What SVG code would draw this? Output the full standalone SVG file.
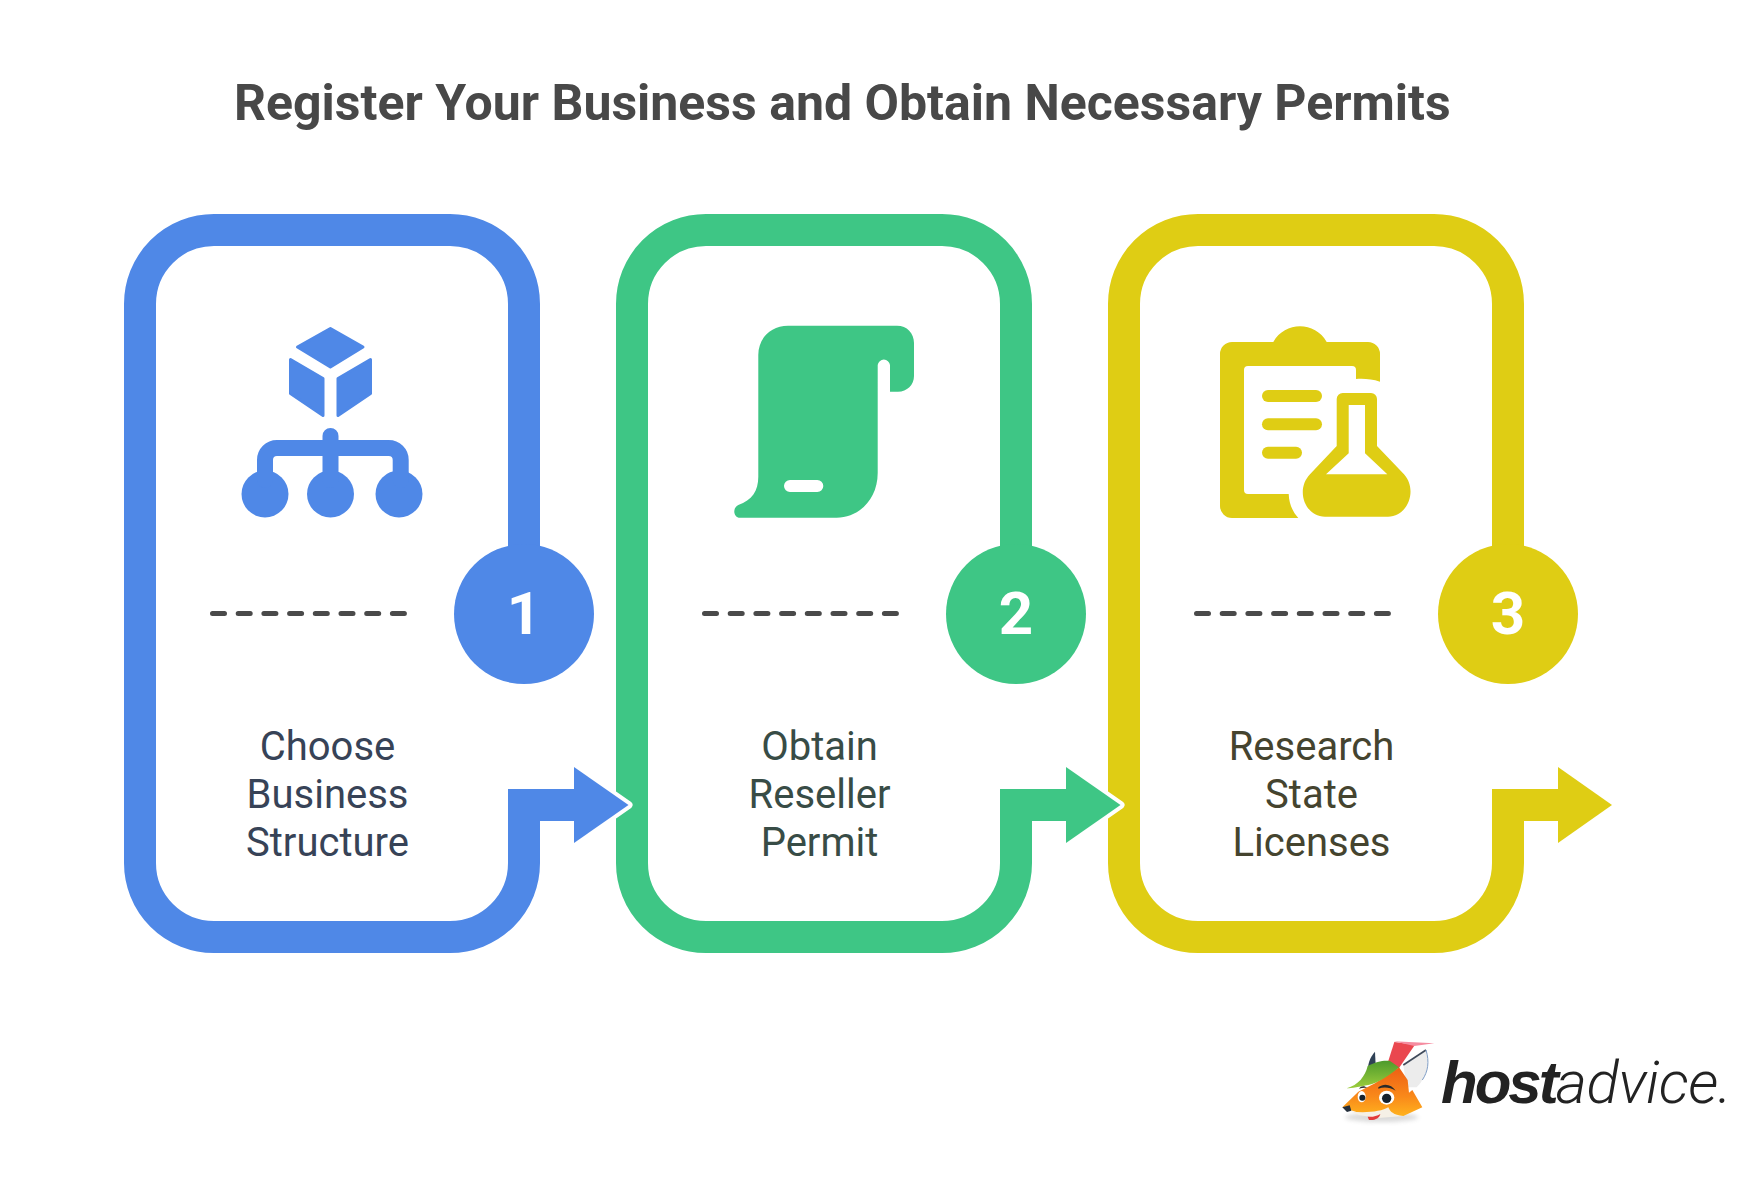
<svg xmlns="http://www.w3.org/2000/svg" width="1762" height="1180" viewBox="0 0 1762 1180">
<style>
text{font-family:Roboto,"Liberation Sans",sans-serif}
.title{font-size:50px;font-weight:700;fill:#484848}
.label{font-size:40px;font-weight:400;text-anchor:middle}
.num{font-size:60px;font-weight:700;fill:#fff;text-anchor:middle}
.ribbon{fill:none;stroke-width:32}
.dash{fill:none;stroke:#4a4a4a;stroke-width:5;stroke-linecap:round;stroke-dasharray:12 13.7}
.b{stroke:#4f88e7}.g{stroke:#3ec685}.y{stroke:#dfcd14}
.fb{fill:#4f88e7}.fg{fill:#3ec685}.fy{fill:#dfcd14}
.halo{fill:#fff;stroke:#fff;stroke-width:8;stroke-linejoin:round}
.shaft{fill:none;stroke-width:32}
</style>
<defs>
<path id="rib" d="M0 385V74A74 74 0 0 0-74 0H-310A74 74 0 0 0-384 74V633A74 74 0 0 0-310 707H-74A74 74 0 0 0 0 633V575"/>
<filter id="blur" x="-30%" y="-100%" width="160%" height="300%"><feGaussianBlur stdDeviation="7"/></filter>
<linearGradient id="fur" x1="0" y1="0" x2="0" y2="1"><stop offset="0" stop-color="#ee5f14"/><stop offset=".6" stop-color="#f9891a"/><stop offset="1" stop-color="#ffb21e"/></linearGradient>
<linearGradient id="hat" x1="0" y1="0" x2="0" y2="1"><stop offset="0" stop-color="#4d9a2c"/><stop offset="1" stop-color="#9ccd3c"/></linearGradient>
</defs>
<rect width="1762" height="1180" fill="#fff"/>
<g id="title"><text class="title" x="234" y="120">Register Your Business and Obtain Necessary Permits</text></g>

<g id="node-1">
<use href="#rib" x="524" y="230" class="ribbon b"/>
<circle cx="524" cy="614" r="70" class="fb"/>
<text class="num" x="524" y="634">1</text>
<line class="dash" x1="212.500" y1="613.500" x2="405" y2="613.500"/>
<g class="fb">
<path d="M330.400 328.500L363 347 330.400 367 297.500 347Z" stroke="#4f88e7" stroke-width="3" stroke-linejoin="round"/>
<path d="M290.500 359.500L323 378.500V415.500L290.500 393.500Z" stroke="#4f88e7" stroke-width="3" stroke-linejoin="round"/>
<path d="M370.500 359.500L338 378.500V415.500L370.500 393.500Z" stroke="#4f88e7" stroke-width="3" stroke-linejoin="round"/>
<circle cx="265" cy="494" r="23.500"/><circle cx="330.500" cy="494" r="23.500"/><circle cx="399" cy="494" r="23.500"/>
</g>
<path d="M265 480V460A12 12 0 0 1 277 448H388.700A12 12 0 0 1 400.700 460V480M330.500 436V480" fill="none" stroke="#4f88e7" stroke-width="16" stroke-linecap="round"/>
<text class="label" fill="#374357"><tspan x="327.500" y="760">Choose</tspan><tspan x="327.500" y="808">Business</tspan><tspan x="327.500" y="856">Structure</tspan></text>
</g>

<g id="node-2">
<use href="#rib" x="1016" y="230" class="ribbon g"/>
<circle cx="1016" cy="614" r="70" class="fg"/>
<text class="num" x="1016" y="634">2</text>
<line class="dash" x1="704.500" y1="613.500" x2="897" y2="613.500"/>
<path class="fg" fill-rule="evenodd" d="M758.300 355C758.300 338 771 325.700 788 325.700H897C907 325.700 914 333 914 343V376C914 385 907 391.700 898 391.700H890V365A6.200 6.200 0 0 0 877.700 365V473C877.700 500 858 517.700 836.700 517.700H740C733.500 517.700 732 508 738.300 505C752 500 758.300 491 758.300 476.700ZM790 480A6 6 0 0 0 790 492H817.300A6 6 0 0 0 817.300 480Z"/>
<text class="label" fill="#384c46"><tspan x="819.500" y="760">Obtain</tspan><tspan x="819.500" y="808">Reseller</tspan><tspan x="819.500" y="856">Permit</tspan></text>
</g>

<g id="node-3">
<use href="#rib" x="1508" y="230" class="ribbon y"/>
<circle cx="1508" cy="614" r="70" class="fy"/>
<text class="num" x="1508" y="634">3</text>
<line class="dash" x1="1196.500" y1="613.500" x2="1389" y2="613.500"/>
<g class="fy">
<path d="M1232 342H1273.300C1285 321 1315 321 1326.700 342H1368A12 12 0 0 1 1380 354V381.700C1372 379 1364 378.500 1356 379V370A4 4 0 0 0 1352 366H1248A4 4 0 0 0 1244 370V490A4 4 0 0 0 1248 494H1288.700C1289 503 1292 511 1298.300 518H1232A12 12 0 0 1 1220 506V354A12 12 0 0 1 1232 342Z"/>
<rect x="1262" y="390" width="60" height="12" rx="6"/><rect x="1262" y="418.300" width="60" height="12" rx="6"/><rect x="1262" y="446.700" width="40" height="12" rx="6"/>
<path fill-rule="evenodd" d="M1342.700 393H1371A6 6 0 0 1 1377 399V446L1404 474.300C1418 490 1408 516.700 1388 516.700H1325C1305 516.700 1295 490 1310 474.300L1336.700 446V399A6 6 0 0 1 1342.700 393ZM1348.700 405V453.300L1326 474.300H1387.300L1365 453.300V405Z"/>
</g>
<text class="label" fill="#45442f"><tspan x="1311.500" y="760">Research</tspan><tspan x="1311.500" y="808">State</tspan><tspan x="1311.500" y="856">Licenses</tspan></text>
</g>

<g id="connectors">
<polygon class="halo" points="574,767 628.500,805 574,843"/>
<path class="shaft b" d="M508 805H576"/>
<polygon class="fb" points="574,767 628.500,805 574,843"/>
<polygon class="halo" points="1066,767 1120.500,805 1066,843"/>
<path class="shaft g" d="M1000 805H1068"/>
<polygon class="fg" points="1066,767 1120.500,805 1066,843"/>
<path class="shaft y" d="M1492 805H1560"/>
<polygon class="fy" points="1558,767 1612,805 1558,843"/>
</g>

<g id="logo">
<g transform="translate(1335 1030) scale(.3333)">
<ellipse cx="140" cy="262" rx="110" ry="14" fill="#888" opacity=".3" filter="url(#blur)"/>
<path d="M205 105L273 60C284 100 277 140 245 172L215 172Z" fill="#ececec"/>
<path d="M205 105L273 60" fill="none" stroke="#3f4a5a" stroke-width="5"/>
<path d="M273 60C284 95 279 125 262 150" fill="none" stroke="#7d9cc4" stroke-width="3"/>
<path d="M120 65C104 82 96 106 100 130L122 106Z" fill="#2f4156"/>
<path d="M100 130L122 106 130 130Z" fill="#f08a24"/>
<path d="M22 232L70 185 120 160 192 112 218 150 222 188 232 180 262 232 205 258 130 258 70 248Z" fill="url(#fur)"/>
<path d="M45 244C90 250 140 245 160 232C165 245 175 255 205 258L130 264 75 256Z" fill="#f5f0e6"/>
<path d="M152 118L178 36 240 44 192 114Z" fill="#ea474f"/>
<path d="M176 34L298 40 238 48Z" fill="#f58ca0"/>
<path d="M35 175C70 165 90 140 98 108C125 93 150 90 165 93L192 112C165 135 130 160 100 165C75 170 50 175 35 175Z" fill="url(#hat)"/>
<ellipse cx="80" cy="200" rx="12" ry="17" fill="#fff"/><circle cx="82" cy="203" r="9" fill="#17222e"/>
<ellipse cx="155" cy="203" rx="23" ry="21" fill="#fff"/><circle cx="155" cy="205" r="14" fill="#17222e"/>
<path d="M72 176C80 166 90 168 96 174C88 172 80 174 72 176Z" fill="#2a2a2a"/>
<path d="M130 172C148 158 170 164 182 182C165 172 148 170 130 176Z" fill="#2a2a2a"/>
<path d="M22 232L44 226 49 242 36 246Z" fill="#26303c"/>
<path d="M98 260C112 262 125 258 136 252C134 264 120 272 102 270Z" fill="#e23b3b"/>
</g>
<text x="1441" y="1103" font-size="60" font-style="italic" fill="#222"><tspan font-weight="700" style="font-family:'Liberation Sans',sans-serif" letter-spacing="-3">host</tspan><tspan font-weight="300" letter-spacing="-.4">advice.</tspan></text>
</g>
</svg>
